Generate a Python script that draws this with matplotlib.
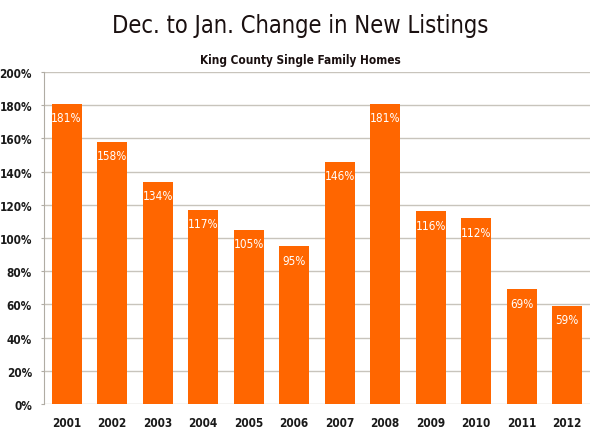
import matplotlib
matplotlib.use("Agg")
import matplotlib.pyplot as plt
from matplotlib import font_manager
from matplotlib.ticker import PercentFormatter

# Données
years = ["2001", "2002", "2003", "2004", "2005", "2006",
         "2007", "2008", "2009", "2010", "2011", "2012"]
change_pct = [181, 158, 134, 117, 105, 95, 146, 181, 116, 112, 69, 59]

# Chercher une police étroite installée
narrow = None
for f in font_manager.fontManager.ttflist:
    if ('Narrow' in f.name or 'Condensed' in f.name
            or f.stretch in ('condensed', 'semi-condensed', 'extra-condensed')):
        narrow = f
        break

if narrow is not None:
    plt.rcParams['font.family'] = [narrow.name, 'DejaVu Sans']
    plt.rcParams['font.stretch'] = narrow.stretch
else:
    plt.rcParams['font.family'] = ['DejaVu Sans']

fig = plt.figure(figsize=(6, 4.35), dpi=100)
ax = fig.add_axes([0.073, 0.069, 0.91, 0.763])

bars = ax.bar(range(len(years)), change_pct, width=0.66, color='#ff6600', zorder=3)

# Étiquettes blanches dans les barres
for b, v in zip(bars, change_pct):
    ax.annotate(f"{v}%", (b.get_x() + b.get_width() / 2, v),
                xytext=(0, -10), textcoords='offset points',
                ha='center', va='center', color='white', fontsize=8.5)

ax.set_ylim(0, 200)
ax.set_yticks(range(0, 201, 20))
ax.yaxis.set_major_formatter(PercentFormatter(decimals=0))
ax.set_xlim(-0.5, len(years) - 0.5)
ax.set_xticks(range(len(years)))
ax.set_xticklabels(years)

ax.grid(axis='y', color='#c8c4bc', linewidth=1, zorder=0)
for s in ['top', 'right', 'bottom']:
    ax.spines[s].set_visible(False)
ax.spines['left'].set_color('#b0aca4')
ax.tick_params(axis='y', length=2.5, color='#b0aca4', labelsize=8.5, pad=6)
ax.tick_params(axis='x', length=0, labelsize=8.5, pad=9)
for lbl in ax.get_xticklabels() + ax.get_yticklabels():
    lbl.set_fontweight('bold')
    lbl.set_color('#1a1a1a')

fig.text(0.5, 0.94, "Dec. to Jan. Change in New Listings", ha='center', va='center',
         fontsize=17, color='#1a1010')
fig.text(0.5, 0.862, "King County Single Family Homes", ha='center', va='center',
         fontsize=8.5, fontweight='bold', color='#1a1010')

fig.savefig("out.png", dpi=100)
